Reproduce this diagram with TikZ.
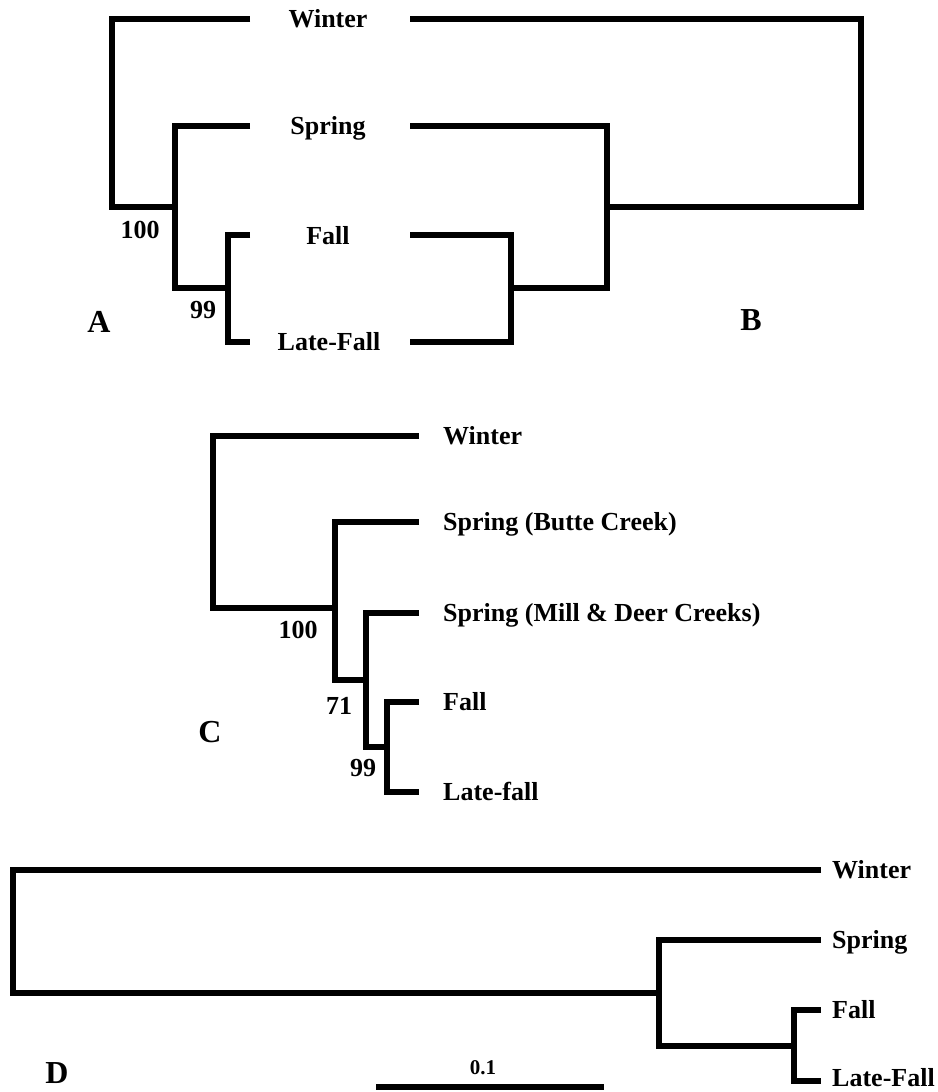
\documentclass[tikz,border=0pt]{standalone}
\usepackage{fontspec}
\setmainfont{Liberation Serif}
\usetikzlibrary{positioning}
\tikzset{
	taxon/.style={inner sep=0pt, text height=17pt, text depth=0pt, font=\fontsize{26}{30}\selectfont\bfseries},
	support/.style={inner sep=0pt, text height=17pt, text depth=0pt, font=\fontsize{26}{30}\selectfont\bfseries},
	panel/.style={inner sep=0pt, text height=21pt, text depth=0pt, font=\fontsize{32}{38}\selectfont\bfseries},
	scaletext/.style={inner sep=0pt, text height=14pt, text depth=0pt, font=\fontsize{21}{25}\selectfont\bfseries},
	branch/.style={line width=5.5pt, black, line join=miter},
}

\begin{document}
\begin{tikzpicture}[x=1pt, y=-1pt]
	\useasboundingbox (0,0) rectangle (937,1092);
	
	% tree A
	\coordinate (aW) at (250,19);
	\coordinate (aS) at (250,126);
	\coordinate (aF) at (250,235);
	\coordinate (aL) at (250,342);
	\coordinate (aR) at (112,207);
	\coordinate (aSFL) at (175,207);
	\coordinate (aFL) at (228,288);
	
	% tree B
	\coordinate (bW) at (410,19);
	\coordinate (bS) at (410,126);
	\coordinate (bF) at (410,235);
	\coordinate (bL) at (410,342);
	\coordinate (bR) at (861,207);
	\coordinate (bSFL) at (607,207);
	\coordinate (bFL) at (511,288);
	
	\node (abWinter) [taxon] at (328,19) {Winter};
	\node (abSpring) [taxon] at (328,126) {Spring};
	\node (abFall) [taxon] at (328,236) {Fall};
	\node (abLate) [taxon] at (329,342) {Late-Fall};
	
	\node (a100) [support] at (140,230) {100};
	\node (a99) [support] at (203,310) {99};
	\node (lA) [panel] at (99,322) {A};
	\node (lB) [panel] at (751,320) {B};
	
	% tree C
	\coordinate (cW) at (419,436);
	\coordinate (cB) at (419,522);
	\coordinate (cM) at (419,613);
	\coordinate (cF) at (419,702);
	\coordinate (cL) at (419,792);
	\coordinate (cR) at (213,608);
	\coordinate (cBMFL) at (335,608);
	\coordinate (cMFL) at (366,680);
	\coordinate (cFL) at (387,747);
	
	\node (cWinter) [taxon, anchor=west, right=24pt of cW] {Winter};
	\node (cButte) [taxon, anchor=west, right=24pt of cB] {Spring (Butte Creek)};
	\node (cMill) [taxon, anchor=west, right=24pt of cM] {Spring (Mill \& Deer Creeks)};
	\node (cFall) [taxon, anchor=west, right=24pt of cF] {Fall};
	\node (cLate) [taxon, anchor=west, right=24pt of cL] {Late-fall};
	
	\node (c100) [support] at (298,630) {100};
	\node (c71) [support] at (339,706) {71};
	\node (c99) [support] at (363,768) {99};
	\node (lC) [panel] at (210,732) {C};
	
	% tree D
	\coordinate (dW) at (821,870);
	\coordinate (dS) at (821,940);
	\coordinate (dF) at (821,1010);
	\coordinate (dL) at (821,1081);
	\coordinate (dR) at (13,993);
	\coordinate (dSFL) at (659,993);
	\coordinate (dFL) at (794,1046);
	
	\node (dWinter) [taxon, anchor=west, right=11pt of dW] {Winter};
	\node (dSpring) [taxon, anchor=west, right=11pt of dS] {Spring};
	\node (dFall) [taxon, anchor=west, right=11pt of dF] {Fall};
	\node (dLate) [taxon, anchor=west, right=11pt of dL, yshift=3pt] {Late-Fall};
	\node (lD) [panel] at (57,1073) {D};
	
	\coordinate (s0) at (376,1087);
	\coordinate (s1) at (604,1087);
	\node (sLabel) [scaletext] at (483,1067) {0.1};
	
	\begin{scope}[branch]
		\draw (aW) -| (aR) -- (aSFL);
		\draw (aS) -| (aSFL) |- (aFL);
		\draw (aF) -| (aFL) |- (aL);
		
		\draw (bW) -| (bR) -- (bSFL);
		\draw (bS) -| (bSFL) |- (bFL);
		\draw (bF) -| (bFL) |- (bL);
		
		\draw (cW) -| (cR) -- (cBMFL);
		\draw (cB) -| (cBMFL) |- (cMFL);
		\draw (cM) -| (cMFL) |- (cFL);
		\draw (cF) -| (cFL) |- (cL);
		
		\draw (dW) -| (dR) -- (dSFL);
		\draw (dS) -| (dSFL) |- (dFL);
		\draw (dF) -| (dFL) |- (dL);
		
		\draw (s0) -- (s1);
	\end{scope}
\end{tikzpicture}
\end{document}
